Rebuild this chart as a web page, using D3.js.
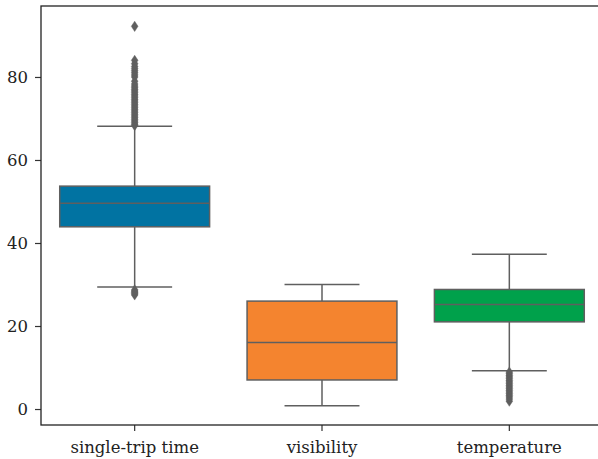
<!DOCTYPE html>
<html><head><meta charset="utf-8">
<script src="https://cdn.jsdelivr.net/npm/d3@7"></script>
<style>body{margin:0;background:#fff}svg{display:block}</style>
</head><body>
<svg id="c" width="598" height="459"></svg>
<script>
const categories = ["single-trip time", "visibility", "temperature"];
const colors = ["#0173a2", "#f4842f", "#00a14b"];
const q1 = [43.9, 7.0, 21.0];
const medians = [49.6, 16.0, 25.2];
const q3 = [53.7, 26.0, 28.8];
const whiskerLow = [29.4, 0.8, 9.2];
const whiskerHigh = [68.1, 30.0, 37.3];
const outliersTrip = [27.5, 27.8, 28.1, 28.4, 28.7, 68.3, 68.6, 69.0, 69.4, 69.8, 70.2, 70.6, 71.0, 71.4, 71.8, 72.2, 72.6, 73.0, 73.4, 73.8, 74.2, 74.6, 75.0, 75.4, 75.8, 76.2, 76.6, 77.0, 77.4, 77.8, 78.3, 79.0, 80.0, 80.5, 81.0, 81.5, 82.0, 82.5, 83.2, 84.0, 92.2];
const outliersVis = [];
const outliersTemp = [1.9, 2.4, 2.9, 3.3, 3.7, 4.1, 4.5, 4.9, 5.3, 5.7, 6.1, 6.5, 6.9, 7.3, 7.7, 8.1, 8.5, 8.9];
const yTicks = [0, 20, 40, 60, 80];

const outliers = [outliersTrip, outliersVis, outliersTemp];
const svg = d3.select("#c");
const mLeft = 41, mTop = 6, mRight = 603, mBottom = 425;
const x = d3.scaleBand().domain(categories).range([mLeft, mRight]).paddingInner(0).paddingOuter(0);
const y = d3.scaleLinear().domain([-3.85, 97.1]).range([mBottom, mTop]);
const boxW = x.bandwidth() * 0.8;
const capW = boxW * 0.5;
const lineCol = "#5f5f5f";
const font = "DejaVu Serif";
const diamond = "M0,-5.2L3.4,0L0,5.2L-3.4,0Z";

categories.forEach((c, i) => {
  const cx = x(c) + x.bandwidth() / 2;
  const g = svg.append("g");
  g.append("line").attr("x1", cx).attr("x2", cx).attr("y1", y(whiskerLow[i])).attr("y2", y(q1[i]))
    .attr("stroke", lineCol).attr("stroke-width", 1.5);
  g.append("line").attr("x1", cx).attr("x2", cx).attr("y1", y(q3[i])).attr("y2", y(whiskerHigh[i]))
    .attr("stroke", lineCol).attr("stroke-width", 1.5);
  [whiskerLow[i], whiskerHigh[i]].forEach(v => {
    g.append("line").attr("x1", cx - capW / 2).attr("x2", cx + capW / 2).attr("y1", y(v)).attr("y2", y(v))
      .attr("stroke", lineCol).attr("stroke-width", 1.5);
  });
  g.append("rect").attr("x", cx - boxW / 2).attr("width", boxW)
    .attr("y", y(q3[i])).attr("height", y(q1[i]) - y(q3[i]))
    .attr("fill", colors[i]).attr("stroke", lineCol).attr("stroke-width", 1.5);
  g.append("line").attr("x1", cx - boxW / 2).attr("x2", cx + boxW / 2).attr("y1", y(medians[i])).attr("y2", y(medians[i]))
    .attr("stroke", lineCol).attr("stroke-width", 1.5);
  g.selectAll("path.o").data(outliers[i]).join("path").attr("class", "o")
    .attr("d", diamond).attr("transform", d => `translate(${cx},${y(d)})`)
    .attr("fill", lineCol).attr("stroke", lineCol).attr("stroke-width", 0.4);
});

// axes
const yAxis = d3.axisLeft(y).tickValues(yTicks).tickSize(6).tickPadding(7);
const ya = svg.append("g").attr("transform", `translate(${mLeft},0)`).call(yAxis);
ya.select(".domain").remove();
const xAxis = d3.axisBottom(x).tickSize(6).tickPadding(10);
const xa = svg.append("g").attr("transform", `translate(0,${mBottom})`).call(xAxis);
xa.select(".domain").remove();
[ya, xa].forEach(a => {
  a.selectAll("text").attr("font-family", font).attr("font-size", 16.5).attr("fill", "#222");
  a.selectAll(".tick line").attr("stroke", "#333").attr("stroke-width", 1.2);
});
// frame
svg.append("rect").attr("x", mLeft).attr("y", mTop).attr("width", mRight - mLeft).attr("height", mBottom - mTop)
  .attr("fill", "none").attr("stroke", "#222").attr("stroke-width", 1.3);
</script>
</body></html>
